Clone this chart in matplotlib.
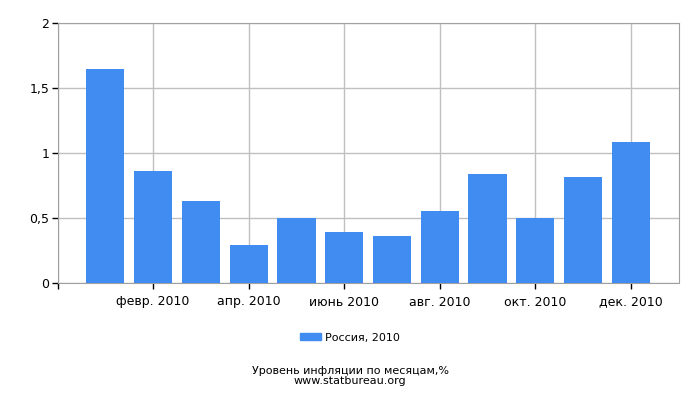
import matplotlib
matplotlib.use("Agg")
import matplotlib.pyplot as plt
from matplotlib.patches import Patch

months = ["янв. 2010", "февр. 2010", "март 2010", "апр. 2010", "май 2010", "июнь 2010",
          "июль 2010", "авг. 2010", "сент. 2010", "окт. 2010", "нояб. 2010", "дек. 2010"]
values = [1.64, 0.86, 0.63, 0.29, 0.50, 0.39, 0.36, 0.55, 0.84, 0.50, 0.81, 1.08]
yticks = [0, 0.5, 1, 1.5, 2]
ytick_labels = ["0", "0,5", "1", "1,5", "2"]
series_name = "Россия, 2010"
title = "Уровень инфляции по месяцам,%"
source = "www.statbureau.org"

plt.rcParams['font.family'] = ['DejaVu Sans']
fig = plt.figure(figsize=(7, 4), dpi=100)
ax = fig.add_axes([57.5/700, 1-283/400, (678.7-57.5)/700, (283-22.5)/400])

x = list(range(len(values)))
ax.bar(x, values, width=0.8, color="#418CF0", zorder=3)

ax.set_xlim(-1, 12)
ax.set_ylim(0, 2)
xt = [-1] + x[1::2]
ax.set_xticks(xt)
ax.set_xticklabels([""] + months[1::2], fontsize=9)
ax.set_yticks(yticks)
ax.set_yticklabels(ytick_labels, fontsize=9)
ax.grid(True, color="#c0c0c0", linewidth=1, zorder=0)
for s in ax.spines.values():
    s.set_color("#a0a0a0")
ax.tick_params(axis='x', length=4, color="#000000", width=1, pad=5)
ax.tick_params(axis='y', length=4, color="#000000", width=1, pad=2)

fig.legend(handles=[Patch(color="#418CF0", label=series_name)], loc="center",
           bbox_to_anchor=(0.5, 1-337.5/400), frameon=False, fontsize=8,
           handlelength=1.9, handleheight=0.6, handletextpad=0.4)
fig.text(0.5, 1-371/400, title, ha="center", va="center", fontsize=8)
fig.text(0.5, 1-381/400, source, ha="center", va="center", fontsize=8)

fig.savefig("out.png", dpi=100)
